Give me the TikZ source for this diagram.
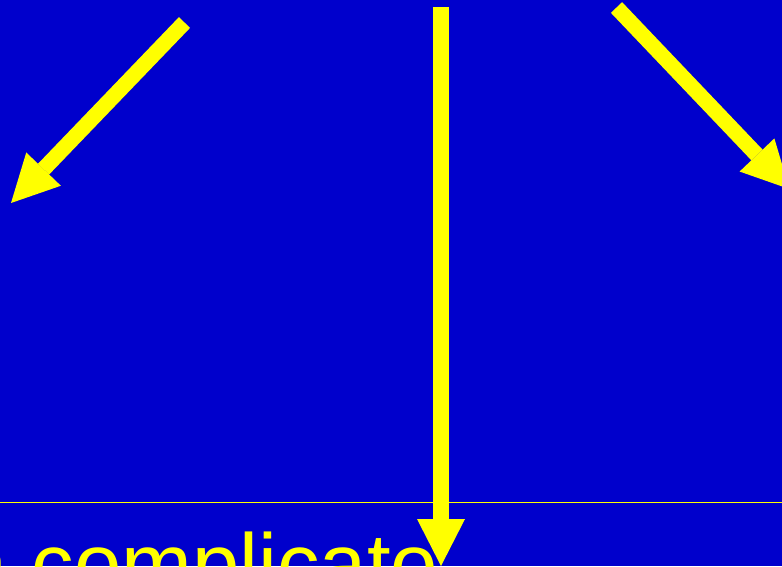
\documentclass[tikz,border=0pt]{standalone}
\usepackage{fontspec}
\setmainfont{Liberation Sans}
\usetikzlibrary{arrows.meta}
\definecolor{bgblue}{RGB}{0,0,204}
\definecolor{ylw}{RGB}{255,255,0}
\begin{document}
\begin{tikzpicture}[x=1pt,y=-1pt,
  bigarrow/.style={draw=ylw,line width=15.5pt,line cap=butt,
    -{Triangle[length=47pt,width=48pt,line width=0pt]}},
  rule/.style={draw=ylw,line width=1.3pt},
  caption/.style={text=ylw,anchor=base west,inner sep=0pt,
    font=\fontsize{85}{90}\selectfont}]
\useasboundingbox (0,0) rectangle (782,566);
\fill[bgblue] (0,0) rectangle (782,566);
\begin{scope}
\clip (0,0) rectangle (782,566);
\coordinate (l0) at (184.5,22.5);
\coordinate (l1) at (11,203);
\coordinate (m0) at (441,7);
\coordinate (m1) at (441,566);
\coordinate (r0) at (616.5,7.5);
\coordinate (r1) at (789.4,189);
\coordinate (h0) at (0,502.3);
\coordinate (h1) at (782,502.3);
\draw[rule] (h0) -- (h1);
\node[caption] (txt) at (-39.2,593.5) {a complicato};
\draw[bigarrow] (l0) -- (l1);
\draw[bigarrow] (m0) -- (m1);
\draw[bigarrow] (r0) -- (r1);
\end{scope}
\end{tikzpicture}
\end{document}
